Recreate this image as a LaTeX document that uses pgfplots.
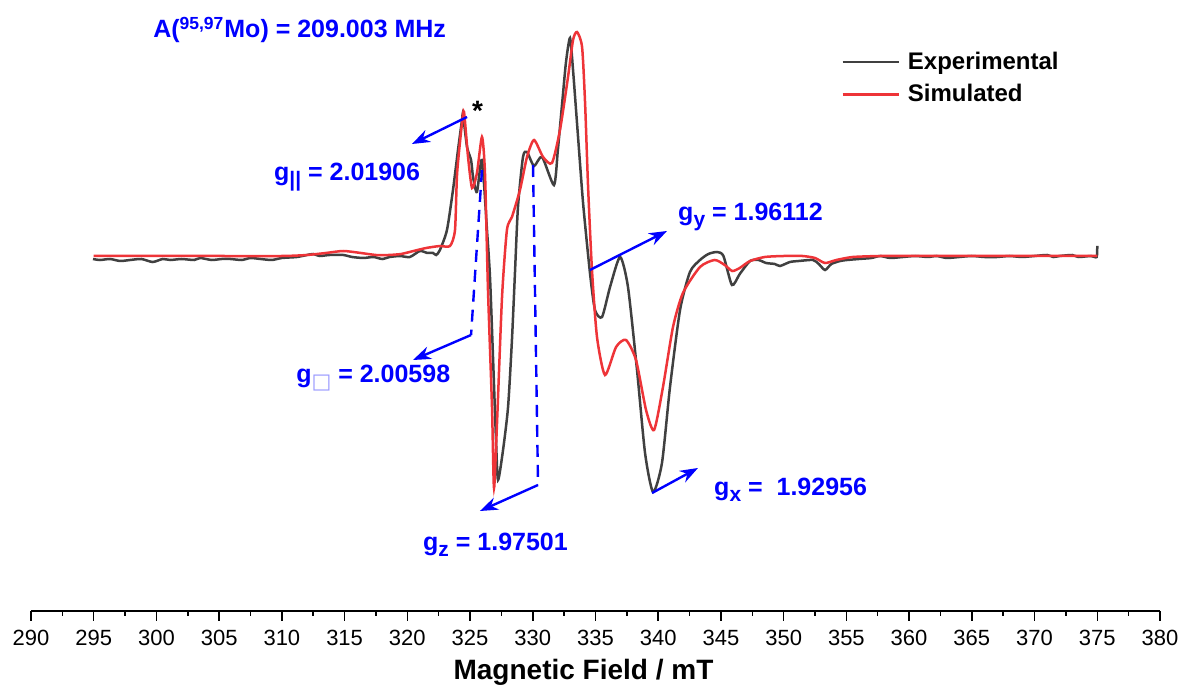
\documentclass[border=0pt]{standalone}
\usepackage{fontspec}
\setmainfont{Liberation Sans}
\newfontfamily\symfont{DejaVu Sans}
\usepackage{pgfplots}
\pgfplotsset{compat=1.18}
\usepackage{pgfplotstable}
\usetikzlibrary{arrows.meta}

\definecolor{expgray}{RGB}{64,64,64}
\definecolor{simred}{RGB}{238,52,56}
\definecolor{annblue}{RGB}{0,0,255}

% lowered subscript for the g-tensor labels
\newcommand\gsub[1]{\raisebox{-0.45ex}{\fontsize{10.5}{12}\selectfont #1}}

% Experimental X-band EPR derivative spectrum (field in mT, intensity in a.u.)
\pgfplotstableread{
B y
294.94 -3
295.5 -4
296.3 -3
297.1 -5
297.9 -4
298.8 -3
299.7 -6
300.5 -3
301.1 -4
302.0 -3
303.0 -4
303.5 -2
304.4 -4
305.2 -3
305.9 -3
306.8 -4
307.5 -2
308.3 -3
309.2 -4
310.0 -2
311.2 -1
312.0 1
312.5 2
313.0 0
313.8 1
314.9 1
315.6 -1
316.5 -2
317.3 -1
318.0 -3
318.6 -1
319.4 0
320.2 -1
321.0 5
321.6 3
322.05 3
322.3 1
322.6 6
323.16 26
323.64 66
324.04 106
324.36 136
324.44 141
324.76 109
325.08 96
325.24 79
325.55 64
325.95 96
326.35 26
326.59 -21
326.83 -101
327.07 -184
327.23 -224
327.63 -194
328.03 -151
328.34 -84
328.58 -17
328.82 49
329.22 99
329.54 104
330.10 90
330.74 99
331.69 71
332.0 106
332.33 151
332.65 194
332.97 218
333.21 186
333.61 119
334.01 53
334.56 -17
334.96 -54
335.52 -61
336.16 -31
336.96 -1
337.59 -31
338.31 -114
338.95 -197
339.59 -236
340.30 -207
340.94 -131
341.74 -54
342.53 -16
343.33 -4
344.0 2
344.69 4
345.2 0
345.88 -29
346.5 -18
347.32 -5
348.0 -4
348.6 -7
349.3 -8
349.71 -10
350.5 -6
351.2 -5
352.34 -4
352.8 -8
353.30 -14
353.8 -8
354.5 -5
355.05 -4
356.0 -3
357.0 -2
357.68 0
358.5 -2
359.5 -1
360.5 0
361.5 -1
362.2 0
363.0 -2
364.0 -1
365.0 0
366.0 -1
367.0 -1
368.0 0
369.0 -1
370.0 0
371.0 1
371.5 -1
372.0 0
373.0 1
373.5 -1
374.5 0
374.95 -1
375.0 10
}\experimental

% Simulated spectrum
\pgfplotstableread{
B y
295 0
300 0
305 0
310 0
312 1
313.5 3
314.9 5
316.3 3
317.5 1
318.5 1
319.5 2
320.5 5
321.5 8
322.6 10
323.4 10
323.8 26
323.97 83
324.36 133
324.52 144
324.84 99
325.16 68
325.55 83
325.95 119
326.19 83
326.43 -34
326.75 -151
326.91 -232
327.15 -167
327.55 -41
327.94 26
328.34 39
328.98 66
329.54 99
330.10 116
330.82 99
331.53 93
332.17 126
332.81 179
333.21 216
333.53 224
333.93 209
334.17 153
334.41 69
334.72 -14
335.12 -81
335.76 -119
336.64 -91
337.43 -84
338.23 -104
339.03 -154
339.67 -174
340.38 -131
341.18 -71
341.97 -37
343.33 -11
344.5 -4
345.3 -9
345.9 -15
346.5 -12
347.32 -5
348.5 -1
350 0
351.5 0
352.5 -2
353.3 -7
354.2 -4
355.5 -1
357.7 0
360 0
365 0
370 0
375 0
}\simulated

\begin{document}
\begin{tikzpicture}
\begin{axis}[
  at={(15.5pt,37.5pt)}, anchor=south west,
  scale only axis, width=564.5pt, height=305.5pt,
  xmin=290, xmax=380, ymin=-355, ymax=256,
  axis y line=none, axis x line=bottom,
  axis line style={-, line width=0.75pt, black},
  xtick distance=5, minor x tick num=1,
  tick align=outside, major tick length=5pt, minor tick length=2.5pt,
  every tick/.style={line width=0.75pt, black},
  /pgf/number format/assume math mode=true,
  xticklabel style={font=\fontsize{11}{13}\selectfont, yshift=-1pt},
  xlabel={Magnetic Field / mT},
  xlabel style={font=\bfseries\fontsize{14}{16}\selectfont, xshift=-6pt},
  legend style={draw=none, fill=none, at={(0.7175,0.919)}, anchor=north west,
    font=\bfseries\fontsize{12}{14}\selectfont, row sep=4pt, inner sep=0pt,
    nodes={inner sep=1pt}},
  legend cell align=left,
  legend image code/.code={\draw[#1] (0pt,0pt) -- (28pt,0pt); \path (31pt,0pt);},
  clip=false,
]
\addplot[expgray, line width=1.25pt, smooth, tension=0.4] table[x=B, y=y] {\experimental};
\addlegendentry{Experimental}
\addplot[simred, line width=1.25pt, smooth, tension=0.4] table[x=B, y=y] {\simulated};
\addlegendentry{Simulated}

\begin{scope}[annblue, line width=1.2pt,
  every node/.style={font=\bfseries\fontsize{12.5}{14}\selectfont, text=annblue, inner sep=0pt}]
  \node[anchor=west] at (axis cs:299.65,226) {A(\textsuperscript{95,97}Mo) = 209.003 MHz};
  % g parallel
  \draw[-{Stealth[length=9pt,width=6.5pt]}] (axis cs:324.76,139) -- (axis cs:320.37,112);
  \node[anchor=west] at (axis cs:309.29,79) {g\gsub{||} = 2.01906};
  % g perpendicular
  \draw[dash pattern=on 6pt off 4pt] (axis cs:325.95,86) -- (axis cs:325.08,-79);
  \draw[-{Stealth[length=9pt,width=6.5pt]}] (axis cs:325.08,-79) -- (axis cs:320.45,-104);
  \node[anchor=west] at (axis cs:311.05,-122) {g\gsub{\textcolor{blue!40}{\symfont\mdseries □}} = 2.00598};
  % g z
  \draw[dash pattern=on 6pt off 4pt] (axis cs:330.02,91) -- (axis cs:330.42,-229);
  \draw[-{Stealth[length=9pt,width=6.5pt]}] (axis cs:330.42,-229) -- (axis cs:325.79,-255);
  \node[anchor=west] at (axis cs:321.17,-289) {g\gsub{z} = 1.97501};
  % g y
  \draw[-{Stealth[length=9pt,width=6.5pt]}] (axis cs:334.56,-14) -- (axis cs:340.70,25);
  \node[anchor=west] at (axis cs:341.5,39) {g\gsub{y} = 1.96112};
  % g x
  \draw[-{Stealth[length=9pt,width=6.5pt]}] (axis cs:339.51,-237) -- (axis cs:343.17,-212);
  \node[anchor=west] at (axis cs:344.37,-234) {g\gsub{x} =\ \ 1.92956};
\end{scope}
\node[font=\bfseries\fontsize{14}{16}\selectfont, inner sep=0pt] at (axis cs:325.6,145) {*};
\end{axis}
\pgfresetboundingbox
\useasboundingbox (0,0) rectangle (590pt,343pt);
\end{tikzpicture}
\end{document}
